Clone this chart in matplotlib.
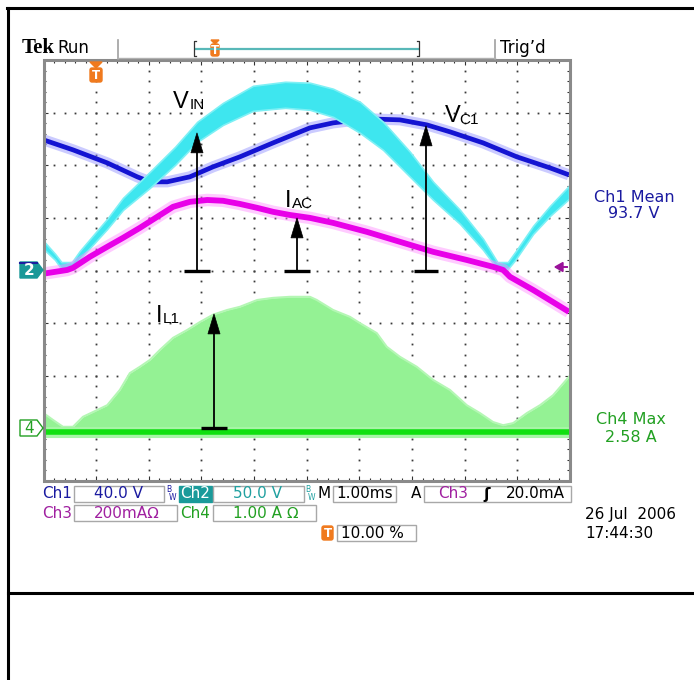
import matplotlib
matplotlib.use("Agg")
import matplotlib.pyplot as plt
from matplotlib.patches import Polygon, Rectangle, FancyBboxPatch
from matplotlib.lines import Line2D
from matplotlib.collections import LineCollection
from matplotlib.transforms import Affine2D
import numpy as np

# ---------------- acquisition settings ----------------
CH1_SCALE, CH1_GND = 40.0, 4.0     # V/div, ground level in divisions
CH2_SCALE, CH2_GND = 50.0, 4.0     # V/div
CH3_SCALE, CH3_GND = 200.0, 4.0    # mA/div
CH4_SCALE, CH4_GND = 1.0, 1.0      # A/div
T_OFFSET = 1.0                     # trigger point, divisions from the left (10 %)

# ---------------- Ch2: rectified input voltage V_IN (ripple band) ----------------
vin_t  = [-1.00, -0.78, -0.66, -0.46, -0.31, 0.21, 0.51, 1.02, 1.50, 1.92, 2.41, 2.98,
          3.59, 4.06, 4.50, 5.01, 5.45, 5.96, 6.40, 6.91, 7.35, 7.62, 7.82, 7.96,
          8.30, 8.62, 8.98]
vin_hi = [28.1, 15.8, 8.0, 8.0, 18.6, 49.1, 69.0, 93.7, 117.5, 141.3, 159.3, 175.5,
          179.3, 178.4, 172.7, 160.3, 141.3, 112.8, 84.3, 57.6, 30.0, 8.0, 8.0, 17.7,
          42.4, 61.4, 80.4]
vin_lo = [20.5, 10.1, 1.5, 1.5, 11.0, 39.5, 57.6, 78.5, 100.4, 122.2, 138.4, 151.7,
          154.6, 152.7, 146.0, 130.8, 114.6, 89.1, 67.2, 44.3, 19.6, 1.5, 1.5, 10.1,
          34.8, 51.9, 68.1]

# ---------------- Ch1: capacitor voltage V_C1 (V) ----------------
vc1_t = [-1.00, -0.44, 0.21, 0.78, 1.02, 1.35, 1.78, 2.22, 2.73, 3.36, 4.06, 4.50,
         5.14, 5.77, 6.28, 6.72, 7.35, 7.99, 8.62, 8.98]
vc1_v = [99.3, 91.7, 81.8, 71.2, 67.4, 67.4, 71.2, 78.8, 86.4, 97.0, 108.4, 112.2,
         115.3, 114.5, 110.7, 105.4, 97.0, 86.4, 78.0, 72.7]

# ---------------- Ch3: line current I_AC (mA) ----------------
iac_t  = [-1.00, -0.55, -0.44, -0.12, 0.21, 0.51, 0.83, 1.16, 1.46, 1.78, 2.11, 2.41,
          2.73, 3.06, 3.36, 3.68, 4.06, 4.50, 5.14, 5.77, 6.40, 7.04, 7.54, 7.73,
          7.86, 8.30, 8.98]
iac_ma = [-12, 2, 10, 52, 90, 124, 162, 204, 242, 261, 268, 265,
          253, 238, 223, 211, 200, 181, 147, 109, 71, 40, 14, 2,
          -24, -74, -157]

# ---------------- Ch4: inductor current I_L1 (A), switching envelope ----------------
il1_t    = [-1.00, -0.82, -0.63, -0.44, -0.25, -0.06, 0.21, 0.45, 0.64, 0.83, 1.02, 1.21,
            1.46, 1.73, 1.97, 2.22, 2.49, 2.73, 3.06, 3.36, 3.68, 4.06, 4.19, 4.50,
            4.82, 5.01, 5.33, 5.52, 5.77, 6.09, 6.40, 6.72, 7.04, 7.29, 7.54, 7.73,
            7.92, 8.18, 8.43, 8.68, 8.98]
il1_peak = [0.29, 0.16, 0.03, 0.03, 0.22, 0.31, 0.44, 0.73, 1.05, 1.17, 1.30, 1.49,
            1.72, 1.87, 2.02, 2.16, 2.25, 2.31, 2.44, 2.48, 2.50, 2.50, 2.44, 2.25,
            2.12, 2.00, 1.81, 1.55, 1.36, 1.17, 0.92, 0.73, 0.44, 0.29, 0.12, 0.06,
            0.10, 0.29, 0.44, 0.63, 0.98]
il1_base = -0.06

# ---------------- figure / graticule geometry (pixels) ----------------
W, H = 694, 680
GX0, GX1, GY0, GY1 = 43.5, 570.0, 60.0, 481.0

fig = plt.figure(figsize=(W / 100, H / 100), dpi=100)
fig.patch.set_facecolor("white")
PIX = Affine2D().scale(1 / W, -1 / H).translate(0, 1) + fig.transFigure

ax = fig.add_axes([GX0 / W, 1 - GY1 / H, (GX1 - GX0) / W, (GY1 - GY0) / H])
ax.set_xlim(0, 10)
ax.set_ylim(0, 8)
ax.axis("off")


def to_div(vals, scale, gnd):
    return np.asarray(vals, dtype=float) / scale + gnd


def to_x(t):
    return np.asarray(t, dtype=float) + T_OFFSET


# graticule: dotted division lines
sub = np.arange(0, 10.001, 0.2)
for j in range(1, 8):
    ax.plot(sub, np.full_like(sub, j), ls="", marker="s", ms=1.3, mew=0,
            color="#3a3a3a", zorder=1)
subv = np.arange(0, 8.001, 0.2)
for i in range(1, 10):
    ax.plot(np.full_like(subv, i), subv, ls="", marker="s", ms=1.3, mew=0,
            color="#3a3a3a", zorder=1)

# edge ruler ticks
segs = []
for x in sub:
    L = 0.09 if abs(x - round(x)) < 1e-6 else 0.05
    segs += [[(x, 8), (x, 8 - L)], [(x, 0), (x, L)]]
for y in subv:
    L = 0.09 if abs(y - round(y)) < 1e-6 else 0.05
    segs += [[(0, y), (L, y)], [(10, y), (10 - L, y)]]
ax.add_collection(LineCollection(segs, colors="#333333", linewidths=0.8, zorder=1))
ax.add_patch(Rectangle((0, 0), 10, 8, fill=False, edgecolor="#8a8a8a", lw=2.2,
                       zorder=7, clip_on=False))

# Ch4: inductor current envelope and baseline
x4 = to_x(il1_t)
ax.fill_between(x4, to_div(il1_base, CH4_SCALE, CH4_GND), to_div(il1_peak, CH4_SCALE, CH4_GND),
                color="#94f294", lw=0, zorder=2)
ax.plot(x4, to_div(il1_peak, CH4_SCALE, CH4_GND), color="#b4f7b4", lw=1.5, zorder=2)
ax.plot([0, 10], [to_div(il1_base, CH4_SCALE, CH4_GND)] * 2, color="#a6f5a6", lw=8, zorder=2)
ax.plot([0, 10], [to_div(il1_base, CH4_SCALE, CH4_GND)] * 2, color="#10e010", lw=4.0, zorder=2)

# Ch1: capacitor voltage
x1 = to_x(vc1_t)
y1 = to_div(vc1_v, CH1_SCALE, CH1_GND)
ax.plot(x1, y1, color="#8c8cff", lw=8, alpha=0.45, solid_capstyle="butt", zorder=3)
ax.plot(x1, y1, color="#1414d2", lw=3.4, solid_capstyle="butt", zorder=3)

# Ch2: input voltage ripple band
x2 = to_x(vin_t)
ax.fill_between(x2, to_div(vin_lo, CH2_SCALE, CH2_GND), to_div(vin_hi, CH2_SCALE, CH2_GND),
                color="#3ee6ef", lw=1.2, edgecolor="#7ef0f5", zorder=4)

# Ch3: line current
x3 = to_x(iac_t)
y3 = to_div(iac_ma, CH3_SCALE, CH3_GND)
ax.plot(x3, y3, color="#ff8cff", lw=9, alpha=0.45, solid_capstyle="butt", zorder=5)
ax.plot(x3, y3, color="#e800e8", lw=4.2, solid_capstyle="butt", zorder=5)


# annotation arrows
def meas_arrow(x, y_base, y_tip, half=0.24):
    ax.plot([x - half, x + half], [y_base, y_base], color="black", lw=2.4,
            solid_capstyle="butt", zorder=8)
    ax.plot([x, x], [y_base, y_tip - 0.35], color="black", lw=1.3, zorder=8)
    ax.add_patch(Polygon([[x - 0.115, y_tip - 0.38], [x + 0.115, y_tip - 0.38], [x, y_tip]],
                         closed=True, facecolor="black", edgecolor="black", lw=0.5, zorder=8))


meas_arrow(2.915, 4.0, 6.616)
meas_arrow(4.815, 4.0, 5.00)
meas_arrow(7.265, 4.0, 6.749, 0.23)
meas_arrow(3.238, 1.0, 3.175)

LBL = dict(family="Liberation Sans", color="black", va="baseline", ha="left", zorder=9)
for (mx, my, main, sx, sy, subs) in [
        (2.46, 7.09, "V", 2.78, 7.07, "IN"),
        (7.62, 6.825, "V", 7.89, 6.79, "C1"),
        (4.59, 5.21, "I", 4.72, 5.19, "AC"),
        (2.14, 3.02, "I", 2.27, 3.00, "L1")]:
    ax.text(mx, my, main, fontsize=17, **LBL)
    ax.text(sx, sy, subs, fontsize=11, **LBL)

# ---------------- frame lines ----------------
for xs, ys in [([7, 694], [8, 8]), ([8, 8], [8, 680]), ([8, 694], [593, 593])]:
    fig.add_artist(Line2D(xs, ys, color="black", lw=2.2, transform=PIX))


def ptext(x, y, s, **kw):
    kw.setdefault("family", "DejaVu Sans")
    kw.setdefault("va", "center")
    fig.text(x, y, s, transform=PIX, **kw)


def pline(xs, ys, **kw):
    fig.add_artist(Line2D(xs, ys, transform=PIX, **kw))


def ppoly(pts, **kw):
    fig.add_artist(Polygon(pts, closed=True, transform=PIX, **kw))


def pbox(x0, y0, x1, y1, face="white", edge="#a8a8a8", lw=1.0):
    fig.add_artist(Rectangle((x0, y0), x1 - x0, y1 - y0, transform=PIX,
                             facecolor=face, edgecolor=edge, lw=lw))


ORANGE = "#f07a1e"


def trig_marker(x, ytop, w=12, tri=6, body=14):
    ppoly([(x - w / 2, ytop), (x + w / 2, ytop), (x, ytop + tri)], color=ORANGE)
    fig.add_artist(FancyBboxPatch((x - w / 2 + 1, ytop + tri + 1), w - 2, body - 2,
                                  boxstyle="round,pad=1,rounding_size=2", transform=PIX,
                                  facecolor=ORANGE, edgecolor=ORANGE))
    ptext(x, ytop + tri + body / 2 + 0.5, "T", color="white", fontsize=8.5,
          fontweight="bold", ha="center")


# ---------------- top status line ----------------
ptext(22, 48, "Tek", family="Liberation Serif", fontweight="bold", fontsize=15, ha="left")
ptext(57, 48, "Run", fontsize=12, ha="left")
ptext(500, 48, "Trig\u2019d", fontsize=12, ha="left")
pline([118, 118], [40, 59], color="#a0a0a0", lw=1.2)
pline([495, 495], [40, 59], color="#a0a0a0", lw=1.2)
pline([118, 495], [58, 58], color="#b0b0b0", lw=1.0)
TEAL = "#58b8b8"
pline([196, 418], [49, 49], color=TEAL, lw=1.6)
pline([196, 194, 194, 196], [41, 41, 56, 56], color="#333333", lw=0.9)
pline([417, 419, 419, 417], [41, 41, 56, 56], color="#333333", lw=0.9)
trig_marker(215, 40, w=8, tri=4, body=12)
trig_marker(96, 62)

# ---------------- channel ground markers ----------------
ppoly([(20, 262), (37, 262), (43, 270), (37, 278), (20, 278)], facecolor="#1a9898",
      edgecolor="#1a9898")
pline([20, 37], [262.5, 262.5], color="#1c1ca0", lw=1.5)
ptext(29, 270.5, "2", color="white", fontsize=11, fontweight="bold", ha="center")
ppoly([(20, 420), (37, 420), (43, 428), (37, 436), (20, 436)], facecolor="white",
      edgecolor="#22a022", lw=1.0)
ptext(29, 428.5, "4", color="#22a022", fontsize=11, ha="center")
# Ch3 trigger level marker
ppoly([(555, 267), (563, 262.5), (563, 271.5)], color="#9a129a")
pline([560, 567], [267, 267], color="#9a129a", lw=1.4)

# ---------------- measurement readouts ----------------
NAVY = "#1a1aa0"
GREEN = "#22a022"
ptext(634, 197, "Ch1 Mean", color=NAVY, fontsize=11.5, ha="center")
ptext(634, 213, "93.7 V", color=NAVY, fontsize=11.5, ha="center")
ptext(631, 420, "Ch4 Max", color=GREEN, fontsize=11.5, ha="center")
ptext(631, 437, "2.58 A", color=GREEN, fontsize=11.5, ha="center")

# ---------------- bottom settings readout ----------------
PURPLE = "#a020a0"
CH2C = "#1a9a9a"
FS = 11
# row 1
ptext(42, 494, "Ch1", color=NAVY, fontsize=FS, ha="left")
pbox(74, 486, 164, 502)
ptext(119, 494, "40.0 V", color=NAVY, fontsize=FS, ha="center")
ptext(166, 490, "B", color=NAVY, fontsize=5.5, ha="left")
ptext(169, 497, "W", color=NAVY, fontsize=5.5, ha="left")
pbox(179, 486, 212, 502, face=CH2C, edge=CH2C)
ptext(195.5, 494, "Ch2", color="white", fontsize=FS, ha="center")
pbox(213, 486, 304, 502)
ptext(258, 494, "50.0 V", color="#20a0a0", fontsize=FS, ha="center")
ptext(305, 490, "B", color="#20a0a0", fontsize=5.5, ha="left")
ptext(308, 497, "W", color="#20a0a0", fontsize=5.5, ha="left")
ptext(318, 494, "M", color="black", fontsize=FS, ha="left")
pbox(333, 486, 396, 502)
ptext(365, 494, "1.00ms", color="black", fontsize=FS, ha="center")
ptext(411, 494, "A", color="black", fontsize=FS, ha="left")
pbox(424, 486, 571, 502)
ptext(438, 494, "Ch3", color=PURPLE, fontsize=FS, ha="left")
ptext(483, 494, "\u0283", color="black", fontsize=FS, fontweight="bold", ha="left")
ptext(506, 494, "20.0mA", color="black", fontsize=FS, ha="left")
# row 2
ptext(42, 513, "Ch3", color=PURPLE, fontsize=FS, ha="left")
pbox(74, 505, 177, 521)
ptext(127, 513, "200mA\u2126", color=PURPLE, fontsize=FS, ha="center")
ptext(180, 513, "Ch4", color=GREEN, fontsize=FS, ha="left")
pbox(213, 505, 316, 521)
ptext(266, 513, "1.00 A \u2126", color=GREEN, fontsize=FS, ha="center")
# row 3
fig.add_artist(FancyBboxPatch((322, 526), 11, 14, boxstyle="round,pad=0,rounding_size=2",
                              transform=PIX, facecolor=ORANGE, edgecolor=ORANGE))
ptext(327.5, 533.5, "T", color="white", fontsize=8.5, fontweight="bold", ha="center")
pbox(337, 525, 416, 541)
ptext(341, 533, "10.00 %", color="black", fontsize=FS, ha="left")
# date / time
ptext(585, 515, "26 Jul  2006", color="black", fontsize=FS, ha="left")
ptext(585, 533, "17:44:30", color="black", fontsize=FS, ha="left")

fig.savefig("out.png", dpi=100)
